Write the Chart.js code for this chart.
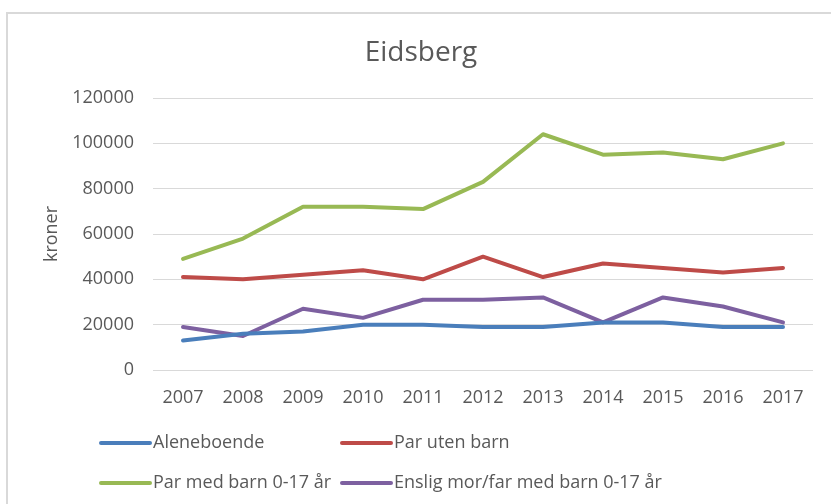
<!DOCTYPE html>
<html>
<head>
<meta charset="utf-8">
<script src="https://cdn.jsdelivr.net/npm/chart.js@4/dist/chart.umd.min.js"></script>
<style>
  html, body { margin: 0; padding: 0; background: #fff; }
  #wrap { width: 831px; height: 504px; position: relative; }
</style>
</head>
<body>
<div id="wrap"><canvas id="my-chart" width="831" height="504"></canvas></div>
<script>
// data
const years = ["2007", "2008", "2009", "2010", "2011", "2012", "2013", "2014", "2015", "2016", "2017"];
const aleneboende = [13000, 16000, 17000, 20000, 20000, 19000, 19000, 21000, 21000, 19000, 19000];
const parUtenBarn = [41000, 40000, 42000, 44000, 40000, 50000, 41000, 47000, 45000, 43000, 45000];
const parMedBarn = [49000, 58000, 72000, 72000, 71000, 83000, 104000, 95000, 96000, 93000, 100000];
const ensligMorFar = [19000, 15000, 27000, 23000, 31000, 31000, 32000, 21000, 32000, 28000, 21000];
const seriesNames = ["Aleneboende", "Par uten barn", "Par med barn 0-17 år", "Enslig mor/far med barn 0-17 år"];
const yTicks = [0, 20000, 40000, 60000, 80000, 100000, 120000];

const chartTitle = "Eidsberg";
const yTitle = "kroner";
const textColor = "#595959";
const fontFam = "'Open Sans', 'DejaVu Sans', sans-serif";

const colors = ["#4a7ebb", "#be4b48", "#98b954", "#7d60a0"];

const makeSet = (label, data, color) => ({
  label,
  data,
  borderColor: color,
  backgroundColor: color,
  borderWidth: 4,
  borderCapStyle: "round",
  borderJoinStyle: "round",
  pointRadius: 0,
  tension: 0,
  fill: false,
});

// title, axis name, legend and frame
const decorations = {
  id: "decorations",
  afterDraw(chart) {
    const ctx = chart.ctx;
    ctx.save();

    // outer frame (only left and top show)
    ctx.strokeStyle = "#d9d9d9";
    ctx.lineWidth = 2;
    ctx.strokeRect(7, 13, 900, 600);

    ctx.fillStyle = textColor;
    ctx.font = `28px ${fontFam}`;
    ctx.textAlign = "center";
    ctx.textBaseline = "alphabetic";
    ctx.fillText(chartTitle, 421, 61);

    ctx.save();
    ctx.translate(52, 234);
    ctx.rotate(-Math.PI / 2);
    ctx.font = `18px ${fontFam}`;
    ctx.textBaseline = "middle";
    ctx.fillText(yTitle, 0, 0);
    ctx.restore();

    // legend, 2 columns
    const cols = [101, 342];
    const rows = [443, 483];
    chart.data.datasets.forEach((ds, i) => {
      const x = cols[i % 2];
      const y = rows[Math.floor(i / 2)];
      ctx.strokeStyle = ds.borderColor;
      ctx.lineWidth = 4;
      ctx.lineCap = "round";
      ctx.beginPath();
      ctx.moveTo(x, y);
      ctx.lineTo(x + 49, y);
      ctx.stroke();
      ctx.fillStyle = textColor;
      ctx.font = `18px ${fontFam}`;
      ctx.textAlign = "left";
      ctx.textBaseline = "middle";
      ctx.fillText(ds.label, x + 52, y);
    });

    ctx.restore();
  },
};

const config = {
  type: "line",
  data: {
    labels: years,
    datasets: [
      makeSet(seriesNames[0], aleneboende, colors[0]),
      makeSet(seriesNames[1], parUtenBarn, colors[1]),
      makeSet(seriesNames[2], parMedBarn, colors[2]),
      makeSet(seriesNames[3], ensligMorFar, colors[3]),
    ],
  },
  options: {
    responsive: false,
    animation: false,
    layout: { padding: { top: 98, bottom: 98, left: 0, right: 18 } },
    plugins: {
      legend: { display: false },
      title: { display: false },
      tooltip: { enabled: false },
    },
    scales: {
      x: {
        offset: true,
        grid: { display: false, drawTicks: false },
        border: { display: false },
        ticks: { color: textColor, font: { family: fontFam, size: 18 }, padding: 17, maxRotation: 0, autoSkip: false },
        afterFit: (axis) => { axis.height = 36; },
      },
      y: {
        min: 0,
        max: 120000,
        afterBuildTicks: (axis) => { axis.ticks = yTicks.map((v) => ({ value: v })); },
        grid: { color: "#d9d9d9", lineWidth: 1, drawTicks: false },
        border: { display: false },
        ticks: {
          color: textColor,
          font: { family: fontFam, size: 18 },
          padding: 19,
          callback: (v) => String(v),
        },
        afterFit: (axis) => { axis.width = 153; },
      },
    },
  },
  plugins: [decorations],
};

const myChart = document.getElementById("my-chart");
new Chart(myChart, config);
</script>
</body>
</html>
